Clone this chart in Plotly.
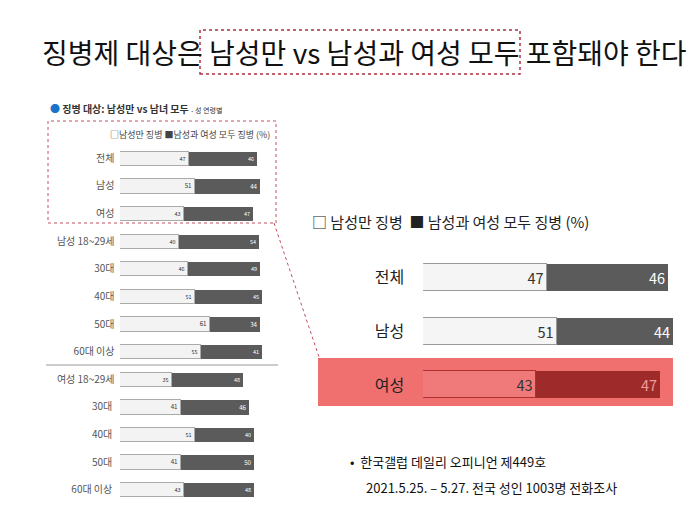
import plotly.graph_objects as go

groups = ["전체", "남성", "여성", "남성 18~29세", "30대", "40대", "50대", "60대 이상",
          "여성 18~29세", "30대 ", "40대 ", "50대 ", "60대 이상 "]
men_only = [47, 51, 43, 40, 46, 51, 61, 55, 35, 41, 51, 41, 43]
both = [46, 44, 47, 54, 49, 45, 34, 41, 48, 46, 40, 50, 48]

big_groups = ["전체", "남성", "여성"]
big_men_only = [47, 51, 43]
big_both = [46, 44, 47]

font = "Noto Sans CJK KR"
fig = go.Figure()

# left small chart
fig.add_trace(go.Bar(y=groups, x=men_only, orientation="h", marker_color="#f3f3f3",
                     marker_line_color="#aaaaaa", marker_line_width=1, width=0.52,
                     text=men_only, textposition="inside", insidetextanchor="end", textangle=0,
                     textfont=dict(color="#333333", size=11), xaxis="x", yaxis="y"))
fig.add_trace(go.Bar(y=groups, x=both, orientation="h", marker_color="#5b5b5b",
                     marker_line_width=0, width=0.52,
                     text=both, textposition="inside", insidetextanchor="end", textangle=0,
                     textfont=dict(color="white", size=11), xaxis="x", yaxis="y"))

# right big chart
hl = [g == "여성" for g in big_groups]
fig.add_trace(go.Bar(y=big_groups, x=big_men_only, orientation="h",
                     marker_color=["#f07a7a" if h else "#f5f5f5" for h in hl],
                     marker_line_color=["#b03030" if h else "#999999" for h in hl], marker_line_width=1, width=0.5,
                     text=big_men_only, textposition="inside", insidetextanchor="end", textangle=0,
                     textfont=dict(color="#333333", size=18), xaxis="x2", yaxis="y2"))
fig.add_trace(go.Bar(y=big_groups, x=big_both, orientation="h",
                     marker_color=["#9e2a2a" if h else "#5b5b5b" for h in hl],
                     marker_line_width=0, width=0.5,
                     text=big_both, textposition="inside", insidetextanchor="end", textangle=0,
                     textfont=dict(color=["#f59a9a" if h else "white" for h in hl], size=18),
                     xaxis="x2", yaxis="y2"))

fig.update_layout(
    width=700, height=525, margin=dict(l=0, r=0, t=0, b=0),
    barmode="stack", showlegend=False, bargap=0,
    paper_bgcolor="white", plot_bgcolor="rgba(0,0,0,0)",
    font=dict(family=font, color="#222222"),
    xaxis=dict(domain=[0.16, 0.371], range=[0, 100], visible=False),
    yaxis=dict(domain=[0.056, 0.74], autorange="reversed", showgrid=False, zeroline=False,
               showline=False, ticks="", ticksuffix="  ", tickfont=dict(size=10, color="#555555")),
    xaxis2=dict(domain=[0.593, 0.969], range=[0, 100], visible=False),
    yaxis2=dict(domain=[0.231, 0.537], anchor="x2", autorange="reversed", showgrid=False,
                zeroline=False, showline=False, ticks="", ticksuffix="     ",
                tickfont=dict(size=16, color="#222222")),
)

shapes = [
    dict(type="rect", xref="paper", yref="paper", x0=310/700, x1=665/700, y0=1-398/525, y1=1-350/525,
         fillcolor="#f07070", line_width=0, layer="below"),
    dict(type="rect", xref="paper", yref="paper", x0=192/700, x1=512/700, y0=1-66/525, y1=1-22/525,
         line=dict(color="#b03040", width=1.5, dash="dot")),
    dict(type="rect", xref="paper", yref="paper", x0=40/700, x1=268/700, y0=1-215/525, y1=1-113/525,
         line=dict(color="#c05060", width=1, dash="dot")),
    dict(type="line", xref="paper", yref="paper", x0=266/700, x1=312/700, y0=1-215/525, y1=1-352/525,
         line=dict(color="#c05060", width=1, dash="dot")),
    dict(type="line", xref="paper", yref="paper", x0=38/700, x1=270/700, y0=1-357/525, y1=1-357/525,
         line=dict(color="#999999", width=1)),
]
fig.update_layout(shapes=shapes)

ann = [
    dict(x=356/700, y=1-44/525, text="징병제 대상은 남성만 vs 남성과 여성 모두 포함돼야 한다",
         font=dict(size=28, color="#111111")),
    dict(x=40/700, y=1-101/525, xanchor="left",
         text="<span style='color:#1a73c8'>●</span> <b>징병 대상: 남성만 vs 남녀 모두</b> <span style='font-size:7px'>- 성 연령별</span>",
         font=dict(size=10, color="#333333")),
    dict(x=264/700, y=1-126/525, xanchor="right", text="□남성만 징병 ■남성과 여성 모두 징병 (%)",
         font=dict(size=9, color="#444444")),
    dict(x=302/700, y=1-213/525, xanchor="left", text="□ 남성만 징병  ■ 남성과 여성 모두 징병 (%)",
         font=dict(size=15, color="#222222")),
    dict(x=340/700, y=1-453/525, xanchor="left", text="•  한국갤럽 데일리 오피니언 제449호",
         font=dict(size=13, color="#111111")),
    dict(x=356/700, y=1-479/525, xanchor="left", text="2021.5.25. – 5.27. 전국 성인 1003명 전화조사",
         font=dict(size=13, color="#111111")),
]
for a in ann:
    a.update(xref="paper", yref="paper", showarrow=False, yanchor="middle")
fig.update_layout(annotations=ann)

fig.write_html("out.html")
